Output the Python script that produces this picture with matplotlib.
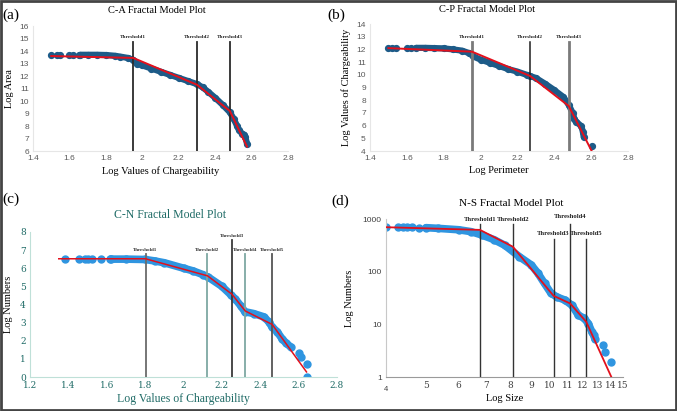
import matplotlib.pyplot as plt
from matplotlib.patches import Rectangle
from matplotlib.transforms import ScaledTranslation

# ---- (a) C-A ----
ca_dots_x = [1.50, 1.53, 1.55, 1.60, 1.62, 1.65]
ca_dots_y = [13.7, 13.7, 13.7, 13.7, 13.7, 13.7]
ca_x = [1.66, 1.70, 1.75, 1.80, 1.85, 1.88, 1.92, 1.95, 1.97, 2.00, 2.05, 2.10, 2.15, 2.20,
        2.25, 2.30, 2.33, 2.36, 2.40, 2.44, 2.48, 2.50, 2.52, 2.53, 2.546, 2.56, 2.565, 2.574]
ca_y = [13.7, 13.7, 13.7, 13.68, 13.62, 13.55, 13.45, 13.3, 13.0, 12.85, 12.6, 12.35, 12.1, 11.85,
        11.6, 11.35, 11.1, 10.75, 10.25, 9.7, 9.1, 8.6, 8.0, 7.68, 7.4, 7.3, 7.1, 6.6]
ca_fit_x = [1.50, 1.95, 2.30, 2.48, 2.574]
ca_fit_y = [13.6, 13.45, 11.3, 9.2, 6.35]
ca_thr = [1.95, 2.30, 2.48]

# ---- (b) C-P ----
cp_dots_x = [1.50, 1.52, 1.54, 1.60, 1.62]
cp_dots_y = [12.1, 12.1, 12.1, 12.1, 12.1]
cp_x = [1.65, 1.70, 1.75, 1.80, 1.85, 1.90, 1.94, 1.96, 2.00, 2.05, 2.10, 2.15, 2.20, 2.25, 2.27,
        2.30, 2.35, 2.40, 2.45, 2.48, 2.50, 2.51, 2.52, 2.547, 2.556, 2.56]
cp_y = [12.12, 12.12, 12.1, 12.08, 12.0, 11.9, 11.7, 11.45, 11.2, 10.95, 10.7, 10.45, 10.25, 10.0, 9.9,
        9.75, 9.3, 8.8, 8.25, 7.6, 7.0, 6.5, 6.3, 5.95, 5.5, 5.1]
cp_tail_x = [2.605]
cp_tail_y = [4.42]
cp_fit_x = [1.50, 1.954, 2.27, 2.479, 2.605]
cp_fit_y = [12.1, 11.82, 9.9, 7.54, 3.95]
cp_thr = [1.954, 2.27, 2.479]

# ---- (c) C-N ----
cn_dots_x = [1.383, 1.453, 1.485, 1.502, 1.525, 1.572, 1.615]
cn_dots_y = [6.5, 6.5, 6.5, 6.5, 6.5, 6.5, 6.5]
cn_x = [1.62, 1.70, 1.80, 1.85, 1.90, 2.00, 2.05, 2.10, 2.13, 2.20, 2.25, 2.27, 2.30, 2.32,
        2.365, 2.418, 2.444, 2.462, 2.488, 2.514, 2.532, 2.558]
cn_y = [6.5, 6.5, 6.48, 6.4, 6.3, 6.0, 5.85, 5.65, 5.5, 5.0, 4.5, 4.3, 3.9, 3.6,
        3.5, 3.32, 3.05, 2.75, 2.5, 2.1, 1.9, 1.66]
cn_tail_x = [2.601, 2.61, 2.641, 2.641]
cn_tail_y = [1.35, 1.1, 0.7, 0.02]
cn_fit_x = [1.35, 1.802, 2.125, 2.252, 2.322, 2.462, 2.641]
cn_fit_y = [6.52, 6.52, 5.58, 4.57, 3.64, 2.9, 0.28]
cn_thr = [1.802, 2.125, 2.252, 2.322, 2.462]

# ---- (d) N-S ----
ns_dots_x = [4.0, 4.27, 4.39, 4.51, 4.62, 4.82]
ns_dots_y = [700, 700, 700, 700, 700, 690]
ns_x = [5.0, 5.34, 6.0, 6.43, 6.83, 7.3, 7.76, 8.42, 9.0, 9.34, 9.69, 10.05, 10.4, 10.86,
        11.3, 11.7, 12.1, 12.37, 12.62, 12.75, 12.85]
ns_y = [690, 670, 630, 580, 500, 410, 320, 194, 135, 94, 60, 39, 33, 29,
        23, 15, 13, 10.4, 7.2, 6.2, 5.2]
ns_tail_x = [13.45, 13.6, 14.05]
ns_tail_y = [4.0, 3.0, 1.93]
ns_fit_x = [4.0, 6.76, 8.12, 10.19, 11.18, 12.23, 14.07]
ns_fit_y = [704, 626, 300, 35, 25, 11.2, 1.0]
ns_thr = [6.76, 8.12, 10.19, 11.18, 12.23]
ns_xticks = [4, 5, 6, 7, 8, 9, 10, 11, 12, 13, 14, 15]
ns_yticks = [1, 10, 100, 1000]

SERIF = 'Liberation Serif'
SANS = 'Liberation Sans'
DARKBLUE = '#1d5b88'
LIGHTBLUE = '#2f95e0'
RED = '#e3101c'
TEAL = '#1f6b66'

fig = plt.figure(figsize=(6.77, 4.11), dpi=100)


def style_axes(ax, spine_color, tick_color, tick_size, tick_family):
    for s in ['top', 'right']:
        ax.spines[s].set_visible(False)
    for s in ['left', 'bottom']:
        ax.spines[s].set_color(spine_color)
        ax.spines[s].set_linewidth(0.8)
    ax.tick_params(length=0, labelsize=tick_size, colors=tick_color, pad=3)
    for lab in ax.get_xticklabels() + ax.get_yticklabels():
        lab.set_family(tick_family)
    ax.patch.set_alpha(0)


# (a)
ax = fig.add_axes([0.0487, 0.6326, 0.377, 0.304])
ax.set_xlim(1.4, 2.8)
ax.set_ylim(6, 16)
ax.set_xticks([1.4, 1.6, 1.8, 2.0, 2.2, 2.4, 2.6, 2.8])
ax.set_xticklabels(['1.4', '1.6', '1.8', '2', '2.2', '2.4', '2.6', '2.8'])
ax.set_yticks(range(6, 17))
style_axes(ax, '#e6e6e6', '#595959', 6, SANS)
ax.plot(ca_x, ca_y, color=DARKBLUE, lw=4.5, solid_capstyle='round', zorder=2)
ax.plot(ca_dots_x + ca_x, ca_dots_y + ca_y, 'o', color=DARKBLUE, ms=4.2, zorder=2)
ax.plot(ca_fit_x, ca_fit_y, color=RED, lw=1.4, zorder=4)
for i, t in enumerate(ca_thr):
    ax.plot([t, t], [6, 14.7], color='#2b2b2b', lw=1.3, zorder=3)
    ax.text(t, 15.0, 'Threshold%d' % (i + 1), ha='center', va='bottom', fontsize=3.8,
            family=SERIF, weight='bold', color='#222222')
ax.set_xlabel('Log Values of Chargeability', family=SERIF, fontsize=7.5, labelpad=3)
ax.set_ylabel('Log Area', family=SERIF, fontsize=7.5, labelpad=4)
fig.text(0.232, 0.975, 'C-A Fractal Model Plot', family=SERIF, fontsize=7.5, ha='center', va='center')
fig.text(0.004, 0.963, '(a)', family=SERIF, fontsize=11, ha='left', va='center')

# (b)
ax = fig.add_axes([0.5465, 0.6326, 0.381, 0.309])
ax.set_xlim(1.4, 2.8)
ax.set_ylim(4, 14)
ax.set_xticks([1.4, 1.6, 1.8, 2.0, 2.2, 2.4, 2.6, 2.8])
ax.set_xticklabels(['1.4', '1.6', '1.8', '2', '2.2', '2.4', '2.6', '2.8'])
ax.set_yticks(range(4, 15))
style_axes(ax, '#e6e6e6', '#595959', 6, SANS)
ax.plot(cp_x, cp_y, color=DARKBLUE, lw=4.5, solid_capstyle='round', zorder=2)
ax.plot(cp_dots_x + cp_x + cp_tail_x, cp_dots_y + cp_y + cp_tail_y, 'o', color=DARKBLUE, ms=4.2, zorder=2)
ax.plot(cp_fit_x, cp_fit_y, color=RED, lw=1.4, zorder=4)
thr_cols = ['#7a7a7a', '#1e1e1e', '#7a7a7a']
thr_lw = [2.0, 1.1, 2.0]
for i, t in enumerate(cp_thr):
    ax.plot([t, t], [4, 12.6], color=thr_cols[i], lw=thr_lw[i], zorder=3)
    ax.text(t, 12.85, 'Threshold%d' % (i + 1), ha='center', va='bottom', fontsize=3.8,
            family=SERIF, weight='bold', color='#222222')
ax.set_xlabel('Log Perimeter', family=SERIF, fontsize=7.5, labelpad=3)
ax.set_ylabel('Log Values of Chargeability', family=SERIF, fontsize=7.5, labelpad=4)
fig.text(0.72, 0.978, 'C-P Fractal Model Plot', family=SERIF, fontsize=7.5, ha='center', va='center')
fig.text(0.484, 0.963, '(b)', family=SERIF, fontsize=11, ha='left', va='center')

# (c)
ax = fig.add_axes([0.0443, 0.0827, 0.4535, 0.353])
ax.set_xlim(1.2, 2.8)
ax.set_ylim(0, 8)
ax.set_xticks([1.2, 1.4, 1.6, 1.8, 2.0, 2.2, 2.4, 2.6, 2.8])
ax.set_xticklabels(['1.2', '1.4', '1.6', '1.8', '2', '2.2', '2.4', '2.6', '2.8'])
ax.set_yticks(range(0, 9))
style_axes(ax, '#bfe0d8', TEAL, 6.5, 'DejaVu Serif')
ax.plot(cn_x, cn_y, color=LIGHTBLUE, lw=5.5, solid_capstyle='round', zorder=2)
ax.plot(cn_dots_x + cn_x + cn_tail_x, cn_dots_y + cn_y + cn_tail_y, 'o', color=LIGHTBLUE, ms=5, zorder=2)
ax.plot(cn_fit_x, cn_fit_y, color=RED, lw=1.1, zorder=4)
thr_cols = ['#6b6b6b', '#7ea8a2', '#3a3a3a', '#7ea8a2', '#555555']
thr_top = [6.78, 6.78, 7.57, 6.78, 6.78]
for i, t in enumerate(cn_thr):
    ax.plot([t, t], [0, thr_top[i]], color=thr_cols[i], lw=1.3, zorder=3)
    ax.text(t, thr_top[i] + 0.12, 'Threshold%d' % (i + 1), ha='center', va='bottom', fontsize=3.6,
            family=SERIF, weight='bold', color='#333333')
ax.set_xlabel('Log Values of Chargeability', family=SERIF, fontsize=8.5, color=TEAL, labelpad=2)
ax.set_ylabel('Log Numbers', family=SERIF, fontsize=7.5, labelpad=5)
fig.text(0.251, 0.477, 'C-N Fractal Model Plot', family=SERIF, fontsize=8.5, color=TEAL,
         ha='center', va='center')
fig.text(0.004, 0.515, '(c)', family=SERIF, fontsize=11, ha='left', va='center')

# (d)
ax = fig.add_axes([0.570, 0.0827, 0.350, 0.384])
ax.set_xscale('log')
ax.set_yscale('log')
ax.set_xlim(4, 15)
ax.set_ylim(1, 1000)
ax.set_xticks(ns_xticks)
ax.set_xticklabels([str(v) for v in ns_xticks])
ax.set_yticks(ns_yticks)
ax.set_yticklabels([str(v) for v in ns_yticks])
ax.minorticks_off()
style_axes(ax, '#c8c8c8', '#404040', 6.5, 'DejaVu Serif')
for lab in ax.get_yticklabels():
    lab.set_family(SANS)
    lab.set_fontsize(6)
# the first x label sits a little lower in the original
first = ax.get_xticklabels()[0]
first.set_transform(first.get_transform() + ScaledTranslation(0, -3.5 / 72, fig.dpi_scale_trans))
first.set_fontsize(5.5)
first.set_family(SANS)
ax.spines['bottom'].set_color('#9a9a9a')
ax.plot(ns_x, ns_y, color=LIGHTBLUE, lw=5.5, solid_capstyle='round', zorder=2)
ax.plot(ns_dots_x + ns_x + ns_tail_x, ns_dots_y + ns_y + ns_tail_y, 'o', color=LIGHTBLUE, ms=5, zorder=2)
ax.plot(ns_fit_x, ns_fit_y, color=RED, lw=1.3, zorder=4)
thr_top = [814, 814, 416, 814, 416]
lab_y = [900, 900, 470, 1000, 470]
for i, t in enumerate(ns_thr):
    ax.plot([t, t], [1, thr_top[i]], color='#333333', lw=1.0, zorder=3)
    ax.text(t, lab_y[i], 'Threshold%d' % (i + 1), ha='center', va='bottom', fontsize=4.8,
            family=SERIF, weight='bold', color='#222222')
ax.set_xlabel('Log Size', family=SERIF, fontsize=7.5, labelpad=1)
ax.set_ylabel('Log Numbers', family=SERIF, fontsize=7.5, labelpad=6)
fig.text(0.755, 0.506, 'N-S Fractal Model Plot', family=SERIF, fontsize=8, ha='center', va='center')
fig.text(0.49, 0.51, '(d)', family=SERIF, fontsize=11, ha='left', va='center')

# outer frame
fig.patches.append(Rectangle((0.0015, 0.0025), 0.997, 0.995, transform=fig.transFigure,
                             fill=False, edgecolor='#444444', lw=2))

fig.savefig('out.png', dpi=100)
